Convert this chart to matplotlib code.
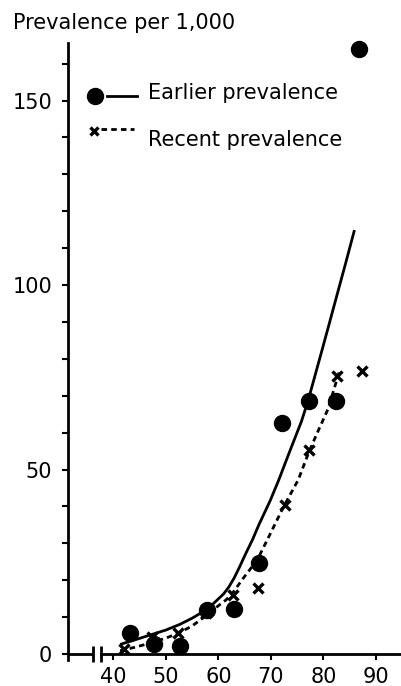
import matplotlib
matplotlib.use("Agg")
import matplotlib.pyplot as plt
from matplotlib.lines import Line2D

plt.rcParams['font.family'] = ['DejaVu Sans']

# ---- data ----
age_earlier = [43.2, 47.7, 52.7, 57.8, 63.0, 67.7, 72.2, 77.3, 82.3, 86.8]
prev_earlier = [5.8, 2.7, 2.3, 11.9, 12.3, 24.6, 62.7, 68.6, 68.6, 163.9]

age_recent = [42.0, 47.3, 52.4, 57.7, 62.8, 67.6, 72.7, 77.3, 82.6, 87.3]
prev_recent = [1.3, 4.7, 5.6, 11.0, 16.0, 17.8, 40.4, 55.3, 75.4, 76.8]

fit_earlier_x = [41.3, 44.0, 46.9, 50.0, 52.6, 55.0, 57.0, 59.0, 61.0, 62.0, 63.0,
                 64.0, 65.2, 66.5, 67.7, 69.9, 71.5, 73.6, 75.8, 77.1, 79.6,
                 81.0, 82.5, 84.2, 85.9]
fit_earlier_y = [2.6, 3.8, 5.1, 6.5, 8.0, 9.7, 11.4, 13.6, 16.3, 18.2, 20.6,
                 23.5, 27.2, 31.0, 35.0, 41.7, 47.2, 55.0, 63.0, 68.8, 81.7,
                 89.0, 96.9, 105.8, 114.9]

fit_recent_x = [41.3, 44.0, 46.9, 50.0, 52.6, 55.0, 57.0, 59.0, 61.4, 62.6,
                64.5, 67.4, 69.6, 72.4, 75.2, 77.3, 79.0, 80.9, 83.0]
fit_recent_y = [0.9, 1.8, 2.9, 4.3, 5.8, 7.6, 9.7, 12.0, 14.6, 16.3,
                20.1, 25.5, 31.8, 39.9, 47.2, 55.0, 60.5, 66.5, 76.5]

x_ticks = [40, 50, 60, 70, 80, 90]
y_ticks = list(range(0, 161, 10))
y_labels = ['0' if v == 0 else (str(v) if v % 50 == 0 else '') for v in y_ticks]

ylabel_text = "Prevalence per 1,000"
legend_labels = ["Earlier prevalence", "Recent prevalence"]

# ---- figure ----
W, H = 401, 686
fig = plt.figure(figsize=(W / 100, H / 100), dpi=100)

xmin, xmax = 31.28, 94.57
ymin, ymax = -1.7, 165.6
ax = fig.add_axes([67.5 / W, (H - 660.3) / H, (400 - 67.5) / W, (660.3 - 43) / H])
ax.set_xlim(xmin, xmax)
ax.set_ylim(ymin, ymax)

lw = 2.0
dash = (0, (2.0, 1.5))
ax.plot(fit_earlier_x, fit_earlier_y, color='black', lw=lw, solid_capstyle='butt',
        solid_joinstyle='round')
ax.plot(fit_recent_x, fit_recent_y, color='black', lw=lw, linestyle=dash)
ax.plot(age_earlier, prev_earlier, 'o', color='black', ms=11.5, clip_on=False)
ax.plot(age_recent, prev_recent, 'x', color='black', ms=6.5, mew=2.4, clip_on=False)

# axes styling
for s in ['top', 'right']:
    ax.spines[s].set_visible(False)
ax.spines['left'].set_linewidth(2.0)
ax.spines['bottom'].set_linewidth(2.0)
ax.spines['bottom'].set_position(('data', 0))
bx1, bx2 = 36.19, 37.60
ax.spines['bottom'].set_bounds(bx2, xmax)
# left part of broken x-axis and break bars
ax.plot([xmin, bx1], [0, 0], color='black', lw=2.0, clip_on=False, solid_capstyle='butt')
for bx in (bx1, bx2):
    ax.plot([bx, bx], [-2.1, 2.1], color='black', lw=2.0, clip_on=False, solid_capstyle='butt')

ax.set_xticks(x_ticks)
ax.set_xticklabels([str(v) for v in x_ticks])
ax.set_yticks(y_ticks)
ax.set_yticklabels(y_labels)
ax.tick_params(axis='x', direction='out', length=4, width=1.5, pad=5, labelsize=15)
ax.tick_params(axis='y', direction='out', length=4.5, width=1.5, pad=6.5, labelsize=15)

# title-like axis label
fig.text(13 / W, 1 - 29.3 / H, ylabel_text, fontsize=15, ha='left', va='baseline')

# manual legend
def fpx(x, y):
    return x / W, 1 - y / H

tr = fig.transFigure
x0, y0 = fpx(95, 95.5)
fig.add_artist(Line2D([x0], [y0], marker='o', color='black', ms=11.5, transform=tr))
xa, ya = fpx(107, 95.5)
xb, _ = fpx(137, 95.5)
fig.add_artist(Line2D([xa, xb], [ya, ya], color='black', lw=lw, transform=tr))
fig.text(*fpx(148, 99), legend_labels[0], fontsize=15, ha='left', va='baseline')

x0, y0 = fpx(94, 130.5)
fig.add_artist(Line2D([x0], [y0], marker='x', color='black', ms=6, mew=2.4, transform=tr))
xa, ya = fpx(101, 129)
xb, _ = fpx(134, 129)
fig.add_artist(Line2D([xa, xb], [ya, ya], color='black', lw=lw, linestyle=dash, transform=tr))
fig.text(*fpx(148, 146), legend_labels[1], fontsize=15, ha='left', va='baseline')

fig.savefig('out.png', dpi=100)
